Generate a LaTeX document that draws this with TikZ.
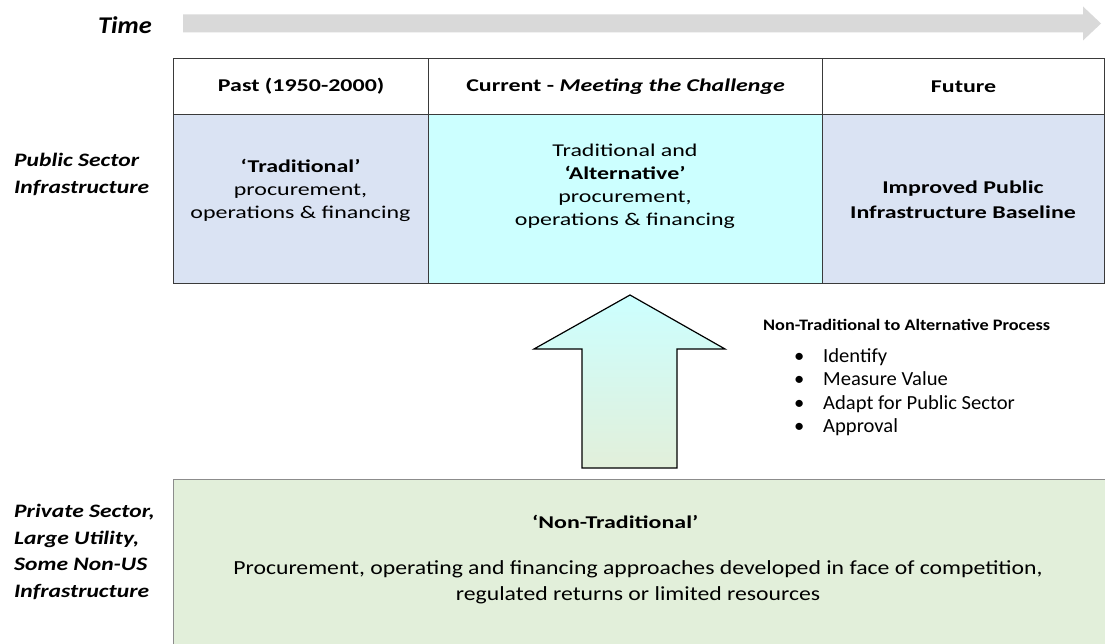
\documentclass[tikz,border=0pt]{standalone}
\usepackage{fontspec}
\setmainfont{Carlito}
\newfontfamily\cellfont[FakeStretch=1.33]{Carlito}
\newfontfamily\timefont[FakeStretch=1.1]{Carlito}
\newfontfamily\sidefont[FakeStretch=1.24]{Carlito}
\newfontfamily\titlefont[FakeStretch=1.14]{Carlito}
\newfontfamily\listfont[FakeStretch=1.03]{Carlito}
\newfontfamily\botfont[FakeStretch=1.185]{Carlito}
\definecolor{bluecell}{HTML}{DAE3F3}
\definecolor{cyancell}{HTML}{CCFFFF}
\definecolor{greenbox}{HTML}{E2EFDA}
\definecolor{timegray}{HTML}{D9D9D9}
\definecolor{gridline}{HTML}{3A3A3A}
\definecolor{boxline}{HTML}{8C8C8C}
\begin{document}
\begin{tikzpicture}[x=1pt,y=-1pt,
  cell/.style={draw=gridline, line width=1.2pt, inner sep=0pt, anchor=north west, minimum width=#1},
  headcell/.style={cell=#1, minimum height=56pt, fill=white},
  bodycell/.style={cell=#1, minimum height=169pt},
  headtext/.style={font=\cellfont\fontsize{18}{22}\selectfont\bfseries},
  celltext/.style={font=\cellfont\fontsize{18}{23}\selectfont, align=center, inner sep=0pt},
  sidelabel/.style={font=\sidefont\fontsize{19}{27}\selectfont\bfseries\itshape, align=left, inner sep=0pt, anchor=west},
  listtext/.style={font=\listfont\fontsize{20}{23.5}\selectfont, align=left, inner sep=0pt, anchor=west},
  bottomtext/.style={font=\botfont\fontsize{20}{26}\selectfont, align=center, inner sep=0pt}]
\useasboundingbox (0,0) rectangle (1105,644);
\fill[white] (0,0) rectangle (1105,644);
% time arrow
\fill[timegray] (183,14.5) -- (1083,14.5) -- (1083,6.5) -- (1101,23.5) -- (1083,40.5) -- (1083,32.5) -- (183,32.5) -- cycle;
\node[font=\timefont\fontsize{24}{28}\selectfont\bfseries\itshape, inner sep=0pt] (time) at (125,25) {Time};
% header row
\node[headcell=255pt] (hpast) at (173,58) {};
\node[headcell=394pt] (hcur) at (428,58) {};
\node[headcell=282pt] (hfut) at (822,58) {};
\node[headtext] (tpast) at (hpast.center) {Past (1950-2000)};
\node[headtext] (tcur) at (hcur.center) {Current - \textit{Meeting the Challenge}};
\node[headtext] (tfut) at (hfut.center) {Future};
% body row
\node[bodycell=255pt, fill=bluecell] (bpast) at (173,114) {};
\node[bodycell=394pt, fill=cyancell] (bcur) at (428,114) {};
\node[bodycell=282pt, fill=bluecell] (bfut) at (822,114) {};
\node[celltext] (xpast) at (300.5,190) {\textbf{‘Traditional’}\\procurement,\\operations \& financing};
\node[celltext] (xcur) at (625,186) {Traditional and\\\textbf{‘Alternative’}\\procurement,\\operations \& financing};
\node[celltext, font=\cellfont\fontsize{18}{25}\selectfont\bfseries] (xfut) at (963,200) {Improved Public\\Infrastructure Baseline};
% side labels
\node[sidelabel] (lpub) at (14,174) {Public Sector\\Infrastructure};
\node[sidelabel, font=\sidefont\fontsize{19}{26.5}\selectfont\bfseries\itshape] (lpriv) at (14,552) {Private Sector,\\Large Utility,\\Some Non-US\\Infrastructure};
% bottom box
\node[draw=boxline, line width=1.4pt, fill=greenbox, anchor=north west, minimum width=960pt, minimum height=220pt, inner sep=0pt] (bottom) at (173,479) {};
\node[font=\cellfont\fontsize{18}{22}\selectfont\bfseries, inner sep=0pt, anchor=west] (ntrad) at (532,522) {‘Non-Traditional’};
\node[bottomtext] (ndesc) at (638,582) {Procurement, operating and financing approaches developed in face of competition,\\regulated returns or limited resources};
% up arrow
\shade[top color=cyancell, bottom color=greenbox, draw=black, line width=1.2pt, line join=miter]
  (630,295) -- (725,349) -- (677,349) -- (677,468) -- (582,468) -- (582,349) -- (534,349) -- cycle;
% process list
\node[font=\titlefont\fontsize{16}{20}\selectfont\bfseries, inner sep=0pt, anchor=west] (ptitle) at (763,325) {Non-Traditional to Alternative Process};
\node[listtext] (plist) at (794,392) {\makebox[29pt][l]{•}Identify\\\makebox[29pt][l]{•}Measure Value\\\makebox[29pt][l]{•}Adapt for Public Sector\\\makebox[29pt][l]{•}Approval};
\end{tikzpicture}
\end{document}
